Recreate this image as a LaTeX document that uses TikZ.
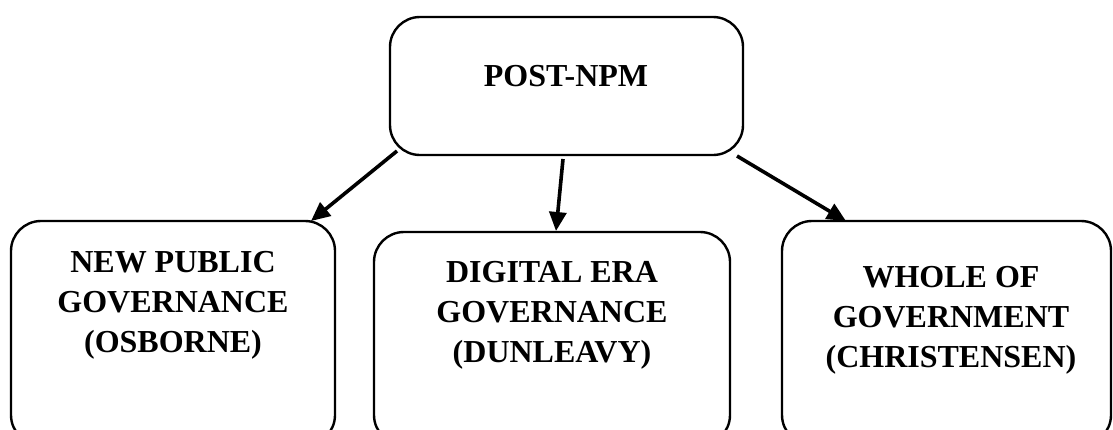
\documentclass[tikz,border=0pt]{standalone}
\usepackage{fontspec}
\setmainfont{Liberation Serif}
\usetikzlibrary{arrows.meta}
\tikzset{
  box/.style={draw=black, line width=2.4pt, rounded corners=30pt, inner sep=0pt},
  lbl/.style={font=\bfseries\fontsize{32}{40}\selectfont, align=center, inner sep=0pt},
  arr/.style={line width=3.6pt, -{Triangle[length=19pt,width=17pt]}}
}
\begin{document}
\begin{tikzpicture}[x=1pt,y=-1pt]
\useasboundingbox (0,0) rectangle (1113,429);
\clip (0,0) rectangle (1113,429);
\fill[white] (0,0) rectangle (1113,429);
% boxes
\node[box, minimum width=353pt, minimum height=138pt] (top) at (566.5,86) {};
\node[box, minimum width=324pt, minimum height=224pt] (left) at (173,333) {};
\node[box, minimum width=356pt, minimum height=213pt] (mid) at (552,338.5) {};
\node[box, minimum width=329pt, minimum height=224pt] (right) at (946.5,333) {};
% labels
\node[lbl] (ttop) at (566,76) {POST-NPM};
\node[lbl] (tleft) at (173,305) {NEW PUBLIC\\GOVERNANCE\\(OSBORNE)};
\node[lbl] (tmid) at (552,315.5) {DIGITAL ERA\\GOVERNANCE\\(DUNLEAVY)};
\node[lbl] (tright) at (951,320) {WHOLE OF\\GOVERNMENT\\(CHRISTENSEN)};
% arrow endpoints
\coordinate (s1) at (397,151);
\coordinate (e1) at (311,221);
\coordinate (s2) at (563,159);
\coordinate (e2) at (556,231);
\coordinate (s3) at (737,156);
\coordinate (e3) at (846,221);
\draw[arr] (s1) -- (e1);
\draw[arr] (s2) -- (e2);
\draw[arr] (s3) -- (e3);
\end{tikzpicture}
\end{document}
